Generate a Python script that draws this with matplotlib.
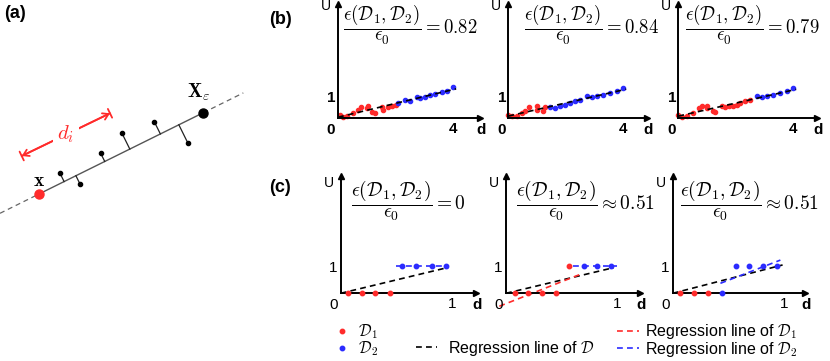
import numpy as np
import matplotlib.pyplot as plt

plt.rcParams['font.family'] = ['Liberation Sans', 'DejaVu Sans']
plt.rcParams['mathtext.fontset'] = 'cm'

RED = '#ff2b2b'
BLUE = '#2b2bff'

# ---- panel (a): schematic, in diagram units (pixel-like, y downwards)
a_x = (39, 194)          # red point x
a_xeps = (203.3, 112.7)  # X_eps
a_pts_u = [60, 80, 100.7, 121.7, 154.3, 187.7]
a_pts_v = [173.3, 184, 153.3, 132.7, 121.7, 142.7]
a_dash_x = [0, 243.3]
a_arrow = [(21.7, 156), (110, 113.3)]

# ---- panel (b): three datasets (d, U)
b_red_d = [
    [0.07, 0.16, 0.30, 0.53, 0.71, 0.79, 1.00, 1.05, 1.17, 1.29, 1.52, 1.58, 1.75, 1.87, 2.02],
    [0.00, 0.12, 0.29, 0.47, 0.58, 0.73, 0.99, 1.01, 1.22, 1.28],
    [0.00, 0.12, 0.29, 0.52, 0.73, 0.81, 0.99, 1.01, 1.22, 1.28, 1.51, 1.62, 1.77, 1.91,
     2.03, 2.15, 2.32, 2.49],
]
b_red_u = [
    [0.14, 0.03, 0.10, 0.22, 0.38, 0.51, 0.46, 0.57, 0.30, 0.25, 0.51, 0.38, 0.54, 0.57, 0.60],
    [0.16, 0.08, 0.11, 0.24, 0.32, 0.52, 0.55, 0.40, 0.32, 0.52],
    [0.16, 0.05, 0.11, 0.24, 0.48, 0.55, 0.48, 0.59, 0.32, 0.27, 0.55, 0.52, 0.59, 0.55,
     0.63, 0.71, 0.79, 0.87],
]
b_blue_d = [
    [2.10, 2.33, 2.50, 2.74, 2.85, 3.03, 3.20, 3.37, 3.61, 3.78, 4.01],
    [1.45, 1.62, 1.80, 1.97, 2.15, 2.32, 2.49, 2.73, 2.90, 3.07, 3.30, 3.54, 3.77, 4.00],
    [2.73, 2.90, 3.07, 3.30, 3.54, 3.77, 4.00],
]
b_blue_u = [
    [0.70, 0.86, 0.83, 1.02, 0.94, 1.02, 1.10, 1.14, 1.25, 1.30, 1.46],
    [0.52, 0.48, 0.55, 0.63, 0.71, 0.79, 0.87, 1.03, 1.00, 1.06, 1.11, 1.19, 1.27, 1.43],
    [1.03, 1.00, 1.06, 1.11, 1.19, 1.27, 1.43],
]
b_ratio = ['= 0.82', '= 0.84', '= 0.79']
b_xticks = [4]
b_yticks = [1]

# ---- panel (c): three toy cases
c_red_d = [[0.07, 0.19, 0.31, 0.44], [0.08, 0.20, 0.32, 0.45, 0.57], [0.07, 0.19, 0.32]]
c_red_u = [[0, 0, 0, 0], [0, 0, 0, 0, 1], [0, 0, 0]]
c_blue_d = [[0.55, 0.68, 0.82, 0.95], [0.70, 0.82, 0.95], [0.44, 0.57, 0.69, 0.81, 0.94]]
c_blue_u = [[1, 1, 1, 1], [1, 1, 1], [0, 1, 1, 1, 1]]
c_line_all = [[(0, 0), (0.97, 0.96)], [(0, 0), (0.97, 0.95)], [(0, 0), (0.99, 1.05)]]
c_line_red = [[(0, 0), (0.46, 0)], [(-0.06, -0.48), (0.68, 0.72)], [(0, 0), (0.33, 0)]]
c_line_blue = [[(0.50, 1), (0.98, 1)], [(0.60, 1), (1.00, 1)], [(0.43, 0.37), (0.97, 1.23)]]
c_ratio = ['= 0', r'\approx 0.51', r'\approx 0.51']
c_xticks = [1]
c_yticks = [1]

W, H = 830, 361
fig = plt.figure(figsize=(8.3, 3.61), dpi=100)


def px_axes(x0, y0, x1, y1):
    return fig.add_axes([x0 / W, 1 - y1 / H, (x1 - x0) / W, (y1 - y0) / H])


def fig_text(x, y, s, **kw):
    return fig.text(x / W, 1 - y / H, s, **kw)


def arrow_axes(ox, oy, right, top, sx, sy, xt, yt, bold, ypad, u_dy):
    ax = px_axes(ox, top, right, oy)
    ax.set_xlim(0, (right - ox) / sx)
    ax.set_ylim(0, (oy - top) / sy)
    ax.patch.set_alpha(0)
    for s in ['top', 'right']:
        ax.spines[s].set_visible(False)
    for s in ['left', 'bottom']:
        ax.spines[s].set_linewidth(1.4)
    ax.plot(1, 0, '>k', ms=5, transform=ax.get_yaxis_transform(), clip_on=False)
    ax.plot(0, 1, '^k', ms=5, transform=ax.get_xaxis_transform(), clip_on=False)
    w = 'bold' if bold else 'normal'
    ax.set_xticks(xt)
    ax.set_yticks(yt)
    ax.set_xticklabels([str(v) for v in xt], fontweight=w, fontsize=11)
    ax.set_yticklabels([str(v) for v in yt], fontweight=w, fontsize=11)
    ax.tick_params(length=0, pad=3)
    ax.tick_params(axis='y', pad=ypad)
    ax.annotate('0', xy=(0, 0), xytext=(-7, -5), textcoords='offset pixels',
                ha='center', va='top', fontsize=11, fontweight=w)
    ax.annotate('U', xy=(0, 1), xycoords=ax.get_xaxis_transform(), xytext=(-12, u_dy),
                textcoords='offset pixels', ha='center', va='top', fontsize=10)
    ax.annotate('d', xy=(1, 0), xycoords=ax.get_yaxis_transform(), xytext=(1, -5),
                textcoords='offset pixels', ha='center', va='top', fontsize=11,
                fontweight='bold')
    return ax


# ---------------- (a)
ax_a = px_axes(0, 60, 260, 250)
ax_a.set_xlim(0, 260)
ax_a.set_ylim(250, 60)
ax_a.axis('off')
p0 = np.array(a_x, float)
p1 = np.array(a_xeps, float)
u = (p1 - p0) / np.linalg.norm(p1 - p0)
slope = u[1] / u[0]
ax_a.plot([a_dash_x[0], p0[0]], [p0[1] + slope * (a_dash_x[0] - p0[0]), p0[1]],
          ls=(0, (4, 3)), color='#666666', lw=0.9)
ax_a.plot([p1[0], a_dash_x[1]], [p1[1], p1[1] + slope * (a_dash_x[1] - p1[0])],
          ls=(0, (4, 3)), color='#666666', lw=0.9)
ax_a.plot([p0[0], p1[0]], [p0[1], p1[1]], color='#555555', lw=1.0)
for pu, pv in zip(a_pts_u, a_pts_v):
    q = np.array([pu, pv])
    foot = p0 + np.dot(q - p0, u) * u
    ax_a.plot([pu, foot[0]], [pv, foot[1]], color='#222222', lw=0.9)
ax_a.plot(a_pts_u, a_pts_v, 'o', color='black', ms=3)
ax_a.plot(*p0, 'o', color=RED, ms=6.5)
ax_a.plot(*p1, 'o', color='black', ms=6.5)
ax_a.text(p0[0], p0[1] - 13, r'$\mathbf{x}$', ha='center', va='center', fontsize=14)
ax_a.text(p1[0] - 5, p1[1] - 20, r'$\mathbf{X}_{\varepsilon}$', ha='center', va='center',
          fontsize=14)
(q0, q1) = a_arrow
ax_a.annotate('', xy=q1, xytext=q0, arrowprops=dict(arrowstyle='|-|,widthA=0.35,widthB=0.35',
              color=RED, lw=1.3, shrinkA=0, shrinkB=0))
ax_a.annotate('', xy=q1, xytext=q0, arrowprops=dict(arrowstyle='<->,head_width=0.25',
              color=RED, lw=1.3, shrinkA=0, shrinkB=0))
ax_a.text((q0[0] + q1[0]) / 2, (q0[1] + q1[1]) / 2, r'$d_i$', color=RED, fontsize=15,
          ha='center', va='center', bbox=dict(facecolor='white', edgecolor='none', pad=3))
fig_text(15, 13, '(a)', fontsize=13, fontweight='bold', ha='center', va='center')

# ---------------- (b)
b_orig = [(338, 118, 480), (508.3, 118, 647), (678.3, 118, 817)]
b_eq_x = [343, 524, 685]
for i, (ox, oy, right) in enumerate(b_orig):
    ax = arrow_axes(ox, oy, right, 4, 28.75, 21, b_xticks, b_yticks, True, 1.5, 5)
    d_all = np.array(b_red_d[i] + b_blue_d[i])
    u_all = np.array(b_red_u[i] + b_blue_u[i])
    k, c0 = np.polyfit(d_all, u_all, 1)
    xs = np.array([0, d_all.max() + 0.1])
    ax.plot(b_red_d[i], b_red_u[i], 'o', color=RED, ms=3.0, clip_on=False)
    ax.plot(b_blue_d[i], b_blue_u[i], 'o', color=BLUE, ms=3.0, clip_on=False)
    ax.plot(xs, k * xs + c0, ls=(0, (3.5, 2.5)), color='black', lw=1.2, clip_on=False)
    fig_text(b_eq_x[i], 25, r'$\dfrac{\epsilon(\mathcal{D}_1, \mathcal{D}_2)}{\epsilon_0} '
             + b_ratio[i] + '$', fontsize=13.5, ha='left', va='center')
fig_text(280, 20, '(b)', fontsize=13, fontweight='bold', ha='center', va='center')

# ---------------- (c)
c_orig = [(340.7, 293.3, 476), (506, 293.3, 640), (672.7, 293.3, 805)]
c_eq_x = [351, 516, 680]
handles = {}
for i, (ox, oy, right) in enumerate(c_orig):
    ax = arrow_axes(ox, oy, right, 176, 111, 27, c_xticks, c_yticks, False, 2.5, 0)
    la, = ax.plot(*zip(*c_line_all[i]), ls=(0, (3.5, 2.5)), color='black', lw=1.2,
                  clip_on=False)
    lr, = ax.plot(*zip(*c_line_red[i]), ls=(0, (3.5, 2.5)), color=RED, lw=1.2, clip_on=False)
    lb, = ax.plot(*zip(*c_line_blue[i]), ls=(0, (3.5, 2.5)), color=BLUE, lw=1.2,
                  clip_on=False)
    pr, = ax.plot(c_red_d[i], c_red_u[i], 'o', color=RED, ms=3.2, clip_on=False, zorder=4)
    pb, = ax.plot(c_blue_d[i], c_blue_u[i], 'o', color=BLUE, ms=3.2, clip_on=False, zorder=4)
    handles = dict(la=la, lr=lr, lb=lb, pr=pr, pb=pb)
    fig_text(c_eq_x[i], 201, r'$\dfrac{\epsilon(\mathcal{D}_1, \mathcal{D}_2)}{\epsilon_0} '
             + c_ratio[i] + '$', fontsize=14, ha='left', va='center')
fig_text(280, 187, '(c)', fontsize=13, fontweight='bold', ha='center', va='center')

# ---------------- legends
leg_kw = dict(frameon=False, borderpad=0, borderaxespad=0, labelspacing=-0.1,
              fontsize=11.5, loc='center left')
fig.legend([handles['pr'], handles['pb']], [r'$\mathcal{D}_1$', r'$\mathcal{D}_2$'],
           bbox_to_anchor=(336 / W, 1 - 340.5 / H), handlelength=0.8, handletextpad=0.6,
           **leg_kw)
fig.legend([handles['la']], [r'Regression line of $\mathcal{D}$'],
           bbox_to_anchor=(416 / W, 1 - 348 / H), handlelength=1.3, handletextpad=0.7,
           **leg_kw)
fig.legend([handles['lr'], handles['lb']],
           [r'Regression line of $\mathcal{D}_1$', r'Regression line of $\mathcal{D}_2$'],
           bbox_to_anchor=(617 / W, 1 - 340.5 / H), handlelength=1.4, handletextpad=0.35,
           **leg_kw)

fig.savefig('out.png', dpi=100)
